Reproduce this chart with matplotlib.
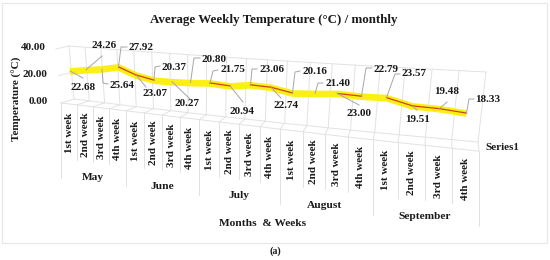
#!/usr/bin/env python3
"""Fake 3D line chart of average weekly temperature, drawn on a pixel canvas."""

import numpy as np
import matplotlib
matplotlib.use('Agg')
import matplotlib.pyplot as plt

months = ["May", "June", "July", "August", "September"]
week_names = ["1st week", "2nd week", "3rd week", "4th week"]
temps = [22.68, 24.26, 25.64, 27.92, 23.07, 20.37, 20.27, 20.80, 21.75, 20.94,
         23.06, 22.74, 20.16, 21.40, 23.00, 22.79, 23.57, 19.51, 19.48, 18.33]
y_ticks = [0, 20, 40]

# perspective of the category floor, front edge x in pixels
edge_px = [61, 77, 93, 109, 126, 144, 162, 180, 199, 219, 239,
           260, 280, 303, 325, 348, 373, 398, 425, 452, 479]

# label centre and leader path for each point, in pixels
label_pos = [(83, 87), (104, 46), (122, 85), (141, 47), (155, 93), (174, 67), (187, 104),
             (214, 59), (233, 70), (242, 111), (272, 70), (286, 106), (315, 72), (338, 83),
             (359, 114), (386, 69), (414, 74), (418, 119), (447, 92), (488, 99)]
leader_mid = [None, None, (103, 83), (121, 47), None, (155, 67), None,
              (194, 58), (213, 71), None, (252, 69), None, (295, 72), (318, 83),
              None, (366, 68), (395, 74), None, None, (469, 99)]
leader_end = [(83, 78), (102, 56), (108, 84), (127, 47), (146, 87), (160, 66), (190, 99),
              (200, 58), (218, 70), (243, 102), (257, 69), (281, 98), (300, 71), (323, 83),
              (359, 105), (372, 68), (400, 74), (417, 110), (447, 102), (474, 99)]

GRID = '#e2e2e2'
TEXT = '#1a1a1a'
SERIF = 'Liberation Serif'


def edge_x(u):
    return np.interp(u, np.arange(len(edge_px)), edge_px)


def front_y(u):
    return 103 + 1.85 * u + 0.028 * u ** 2


def wall_bottom(u):
    return edge_x(u) + 13 - 0.7 * u, 99 + 1.85 * u + 0.015 * u ** 2


def wall_top(u):
    return edge_x(u) + 8 - 0.05 * u, 46 + 1.2 * u + 0.005 * u ** 2


def line_point(i, v):
    base = 102.75 + 0.925 * i + 0.051 * i ** 2
    return edge_x(i + 0.5) + 1, base - 1.4 * v


fig = plt.figure(figsize=(5.5, 2.6), dpi=100, facecolor='white')
ax = fig.add_axes([0, 0, 1, 1])
ax.set_xlim(0, 550)
ax.set_ylim(260, 0)
ax.axis('off')

# outer frame
ax.plot([2, 547, 547, 2, 2], [3, 3, 243, 243, 3], color='#e8e8e8', lw=0.9)

n_edges = len(edge_px)
us = np.arange(n_edges)

# back wall and floor
for u in us:
    tx, ty = wall_top(u)
    bx, by = wall_bottom(u)
    ax.plot([tx, bx], [ty, by], color=GRID, lw=0.7)
    ax.plot([bx, edge_x(u)], [by, front_y(u)], color=GRID, lw=0.7)
    # category separators, longer between months
    sep = 75 if u % 4 == 0 else 55
    ax.plot([edge_x(u)] * 2, [front_y(u), front_y(u) + sep], color=GRID, lw=0.7)

ax.plot(*wall_top(us), color=GRID, lw=0.7)
ax.plot(*wall_bottom(us), color=GRID, lw=0.7)
ax.plot(edge_x(us), front_y(us), color=GRID, lw=0.7)

# value axis
for tick in y_ticks:
    tx, ty = wall_top(0)
    bx, by = wall_bottom(0)
    frac = tick / max(y_ticks)
    px, py = bx + (tx - bx) * frac, by + (ty - by) * frac
    if tick > 0:
        ax.plot([px - 13, px], [py + 3, py], color=GRID, lw=0.7)
    ax.text(px - 23 - 3 * (1 - frac), py + 2, f"{tick:.2f}", ha='right', va='center',
            fontsize=8, family=SERIF, fontweight='bold', color=TEXT)

# series ribbon
idx = np.arange(len(temps))
lx, ly = line_point(idx, np.array(temps))
ax.plot(lx, ly + 0.5, color='#fbef14', lw=4.8, solid_joinstyle='round', solid_capstyle='butt', zorder=3)
for k in idx[:-1]:
    # the red edge only shows where the ribbon falls away
    if ly[k + 1] - ly[k] > 2:
        ax.plot(lx[k:k + 2], ly[k:k + 2], color='#d2401a', lw=0.9, zorder=4)

# data labels and leaders
for k in idx:
    path = [(lx[k], ly[k])]
    if leader_mid[k] is not None:
        path.append(leader_mid[k])
    path.append(leader_end[k])
    xs, ys = zip(*path)
    ax.plot(xs, ys, color='#a6a6a6', lw=0.7, zorder=5)
    ax.text(label_pos[k][0], label_pos[k][1], f"{temps[k]:.2f}", ha='center', va='center',
            fontsize=8, family=SERIF, fontweight='bold', color=TEXT, zorder=6)

# category labels
for k in idx:
    u = k + 0.5
    ax.text(edge_x(u), front_y(u) + 29, week_names[k % 4], rotation=90, ha='center', va='center',
            fontsize=8, family=SERIF, fontweight='bold', color=TEXT)
for m, month in enumerate(months):
    u = m * 4 + 2
    ax.text(edge_x(u), front_y(u) + 71, month, ha='center', va='center',
            fontsize=8.2, family=SERIF, fontweight='bold', color=TEXT)

ax.text(502, 147, "Series1", ha='center', va='center', fontsize=8, family=SERIF,
        fontweight='bold', color=TEXT)
ax.text(263, 223, "Months  & Weeks", ha='center', va='center', fontsize=8.2, family=SERIF,
        fontweight='bold', color=TEXT)
ax.text(17, 99, "Temperature (°C)", rotation=90, ha='center', va='center', fontsize=8,
        family=SERIF, fontweight='bold', color=TEXT)
ax.text(274, 20, "Average Weekly Temperature (°C) / monthly", ha='center', va='center',
        fontsize=9.4, family=SERIF, fontweight='bold', color=TEXT)
ax.text(275, 251, "(a)", ha='center', va='center', fontsize=7.2, family=SERIF,
        fontweight='bold', color=TEXT)

fig.savefig('out.png', dpi=100, facecolor='white')
